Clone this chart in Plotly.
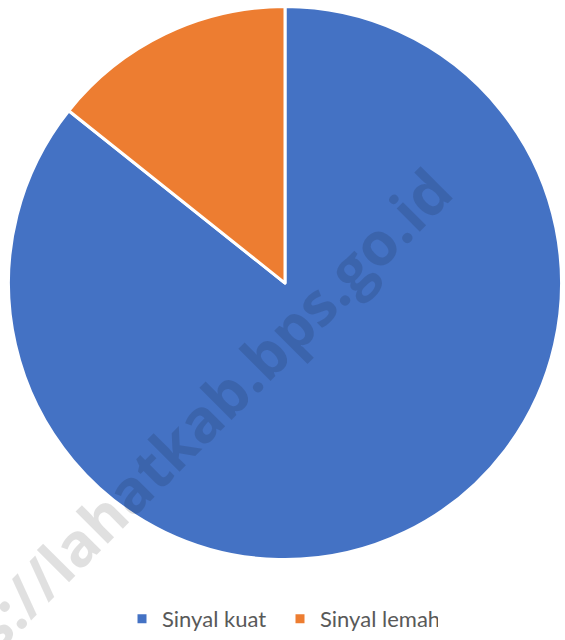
import plotly.graph_objects as go

# kondisi sinyal
labels = ["Sinyal kuat", "Sinyal lemah"]
values = [85.71, 14.29]
colors = ["#4472C4", "#ED7D31"]

watermark = "https://lahatkab.bps.go.id"

W, H = 565, 640

pie = go.Pie(
    labels=labels,
    values=values,
    sort=False,
    direction="clockwise",
    rotation=0,
    textinfo="none",
    hoverinfo="label+percent",
    marker=dict(colors=colors, line=dict(color="white", width=3)),
    domain=dict(x=[5 / W, 1], y=[1 - 566.7 / H, 1 - 6.7 / H]),
)

fig = go.Figure(data=[pie])
fig.update_layout(
    width=W,
    height=H,
    margin=dict(l=0, r=0, t=0, b=0),
    paper_bgcolor="white",
    plot_bgcolor="white",
    showlegend=True,
    legend=dict(
        orientation="h",
        x=122 / W,
        xanchor="left",
        y=1 - 627 / H,
        yanchor="middle",
        font=dict(family="Lato", size=22, color="#595959"),
        itemwidth=30,
        entrywidth=113,
    ),
    annotations=[
        dict(
            text=watermark,
            xref="paper",
            yref="paper",
            x=165 / W,
            y=1 - 460 / H,
            xanchor="center",
            yanchor="middle",
            textangle=-45,
            showarrow=False,
            font=dict(family="Open Sans", size=60, weight="bold",
                      color="rgba(0,0,0,0.12)"),
        )
    ],
)

# no page margin, so the figure sits exactly in the window
fig.write_html("out.html", config={"displayModeBar": False},
               post_script="document.body.style.margin='0';")
